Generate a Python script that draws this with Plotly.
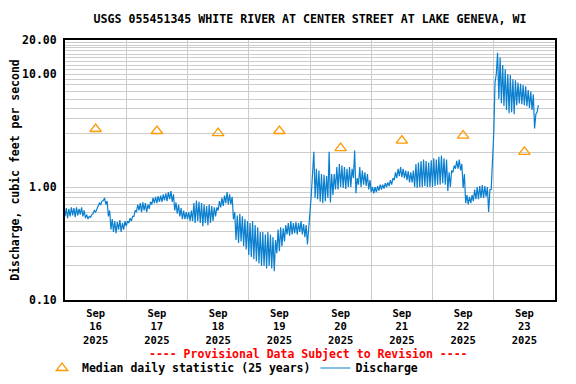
import pandas as pd
import plotly.graph_objects as go

# ---------------- data ----------------
# Discharge (ft3/s): for every hour the low and high of the noisy record, from Sep 16 00:00
start_time = "2025-09-16 00:00"

sep16_low  = [0.55, 0.53, 0.55, 0.56, 0.54, 0.56, 0.57, 0.55, 0.53, 0.52, 0.54, 0.58,
              0.60, 0.68, 0.70, 0.76, 0.70, 0.55, 0.42, 0.40, 0.39, 0.42, 0.40, 0.42]
sep16_high = [0.65, 0.64, 0.66, 0.65, 0.66, 0.64, 0.66, 0.62, 0.57, 0.55, 0.57, 0.62,
              0.64, 0.72, 0.75, 0.80, 0.75, 0.62, 0.52, 0.50, 0.49, 0.51, 0.48, 0.50]
sep17_low  = [0.45, 0.48, 0.50, 0.55, 0.60, 0.62, 0.60, 0.62, 0.60, 0.64, 0.70, 0.72,
              0.72, 0.74, 0.74, 0.76, 0.75, 0.78, 0.74, 0.62, 0.58, 0.55, 0.52, 0.52]
sep17_high = [0.50, 0.53, 0.55, 0.62, 0.70, 0.72, 0.73, 0.72, 0.70, 0.74, 0.80, 0.82,
              0.83, 0.84, 0.86, 0.88, 0.90, 0.92, 0.86, 0.73, 0.70, 0.65, 0.62, 0.60]
sep18_low  = [0.52, 0.50, 0.50, 0.48, 0.50, 0.48, 0.45, 0.48, 0.46, 0.48, 0.50, 0.55,
              0.62, 0.66, 0.68, 0.72, 0.70, 0.70, 0.52, 0.34, 0.32, 0.33, 0.30, 0.28]
sep18_high = [0.60, 0.62, 0.72, 0.76, 0.74, 0.72, 0.70, 0.68, 0.70, 0.68, 0.66, 0.66,
              0.75, 0.80, 0.84, 0.90, 0.86, 0.82, 0.60, 0.56, 0.58, 0.55, 0.52, 0.50]
sep19_low  = [0.25, 0.24, 0.23, 0.22, 0.21, 0.20, 0.20, 0.19, 0.20, 0.19, 0.18, 0.26,
              0.27, 0.30, 0.33, 0.38, 0.37, 0.38, 0.39, 0.38, 0.40, 0.38, 0.36, 0.31]
sep19_high = [0.48, 0.50, 0.46, 0.44, 0.40, 0.40, 0.38, 0.40, 0.38, 0.36, 0.34, 0.42,
              0.44, 0.43, 0.46, 0.48, 0.50, 0.48, 0.49, 0.48, 0.50, 0.47, 0.46, 0.40]
sep20_low  = [0.60, 1.20, 0.80, 0.78, 0.74, 0.72, 0.75, 0.80, 0.73, 0.85, 0.95, 0.95,
              1.00, 0.98, 0.96, 1.00, 1.00, 1.20, 0.88, 1.05, 1.00, 1.05, 1.02, 0.95]
sep20_high = [0.85, 2.05, 1.45, 1.40, 1.30, 1.28, 1.25, 2.05, 1.30, 1.30, 1.50, 1.60,
              1.55, 1.50, 1.45, 1.50, 1.45, 2.10, 1.20, 1.50, 1.40, 1.35, 1.30, 1.15]
sep21_low  = [0.90, 0.88, 0.90, 0.93, 0.95, 0.97, 1.00, 1.02, 1.05, 1.15, 1.20, 1.25,
              1.22, 1.20, 1.15, 1.10, 1.10, 1.00, 0.98, 1.00, 1.00, 1.02, 1.00, 1.00]
sep21_high = [1.00, 1.00, 1.02, 1.05, 1.05, 1.08, 1.10, 1.15, 1.20, 1.35, 1.45, 1.50,
              1.45, 1.40, 1.38, 1.35, 1.40, 1.60, 1.65, 1.70, 1.75, 1.70, 1.65, 1.72]
sep22_low  = [1.00, 1.02, 1.05, 1.05, 1.08, 1.05, 0.92, 1.00, 1.35, 1.45, 1.45, 1.40,
              0.98, 0.72, 0.70, 0.72, 0.75, 0.78, 0.78, 0.80, 0.80, 0.82, 0.60, 0.95]
sep22_high = [1.80, 1.75, 1.85, 1.90, 1.80, 1.75, 1.35, 1.40, 1.55, 1.70, 1.75, 1.60,
              1.30, 0.85, 0.82, 0.85, 0.95, 1.00, 1.02, 1.04, 1.02, 1.00, 0.95, 1.65]
sep23_low  = [3.0, 10.0, 6.0, 5.5, 5.2, 4.8, 4.5, 4.6, 4.4, 5.3, 5.5, 5.4,
              5.3, 5.2, 5.0, 4.8, 3.3, 4.6]
sep23_high = [8.4, 15.4, 14.0, 12.0, 11.0, 10.0, 9.8, 9.0, 8.8, 8.4, 8.2, 8.0,
              7.8, 7.2, 7.0, 6.6, 4.4, 5.3]

median_dates = ["2025-09-16 12:00", "2025-09-17 12:00", "2025-09-18 12:00", "2025-09-19 12:00",
                "2025-09-20 12:00", "2025-09-21 12:00", "2025-09-22 12:00", "2025-09-23 12:00"]
median_values = [3.26, 3.13, 3.00, 3.13, 2.21, 2.57, 2.85, 2.05]

y_tick_values = [0.1, 1, 10, 20]
y_tick_labels = ["0.10", "1.00", "10.00", "20.00"]

title_text = "USGS 055451345 WHITE RIVER AT CENTER STREET AT LAKE GENEVA, WI"
y_title = "Discharge, cubic feet per second"
provisional_note = "---- Provisional Data Subject to Revision ----"

# ---------------- build ----------------
lows = sep16_low + sep17_low + sep18_low + sep19_low + sep20_low + sep21_low + sep22_low + sep23_low
highs = (sep16_high + sep17_high + sep18_high + sep19_high + sep20_high + sep21_high
         + sep22_high + sep23_high)
discharge = []
for lo, hi in zip(lows, highs):      # low on the hour, high on the half hour
    discharge += [lo, hi]
times = pd.date_range(start_time, periods=len(discharge), freq="30min")

# gridlines at every integer step within each decade
grid_vals = [round(m * 10 ** e, 3) for e in (-1, 0) for m in range(1, 10)] + list(range(10, 21))
tick_text = [y_tick_labels[y_tick_values.index(v)] if v in y_tick_values else "" for v in grid_vals]

# the page body adds an 8 px margin, so the figure is 16 px smaller than the window
W, H = 560, 368
FONT = "DejaVu Sans Mono"
fig = go.Figure()
fig.add_trace(go.Scatter(
    x=times, y=discharge, mode="lines", name="Discharge",
    line=dict(color="#0a7fcf", width=1.2)))
fig.add_trace(go.Scatter(
    x=pd.to_datetime(median_dates), y=median_values, mode="markers",
    name="Median daily statistic (25 years)",
    marker=dict(symbol="triangle-up-open", size=10, color="#ff9900", line=dict(width=1.3))))

fig.update_layout(
    width=W, height=H,
    margin=dict(l=57, r=13, t=32, b=76, autoexpand=False),
    paper_bgcolor="white", plot_bgcolor="white",
    font=dict(family=FONT, size=11.5, color="black", weight="bold"),
    title=dict(text=title_text, x=0.5, xref="paper", xanchor="center",
               y=1 - 11 / H, yref="container", yanchor="middle",
               font=dict(family=FONT, size=11.6, weight="bold")),
    showlegend=True,
    legend=dict(orientation="h", x=-0.047, xanchor="left", y=-0.2615, yanchor="middle",
                traceorder="reversed", font=dict(size=11.5, weight="bold"),
                bgcolor="rgba(0,0,0,0)"),
    annotations=[dict(text=provisional_note, xref="paper", yref="paper",
                      x=0.496, y=-0.206, xanchor="center", yanchor="middle",
                      showarrow=False, font=dict(color="#ff0000", size=11.5, weight="bold"))],
)
fig.update_xaxes(
    type="date", range=["2025-09-16 00:00", "2025-09-24 00:00"],
    tick0="2025-09-16", dtick=86400000, ticklabelmode="period",
    tickformat="%b<br>%d<br>%Y", ticks="", automargin=False,
    tickfont=dict(size=10.5, weight="bold"), ticklabelstandoff=2,
    showgrid=True, gridcolor="#cccccc", gridwidth=1,
    showline=True, linecolor="black", linewidth=2, mirror=True, zeroline=False)
fig.update_yaxes(
    type="log", range=[-1, 1.30103], automargin=False,
    tickmode="array", tickvals=grid_vals, ticktext=tick_text, ticks="",
    ticklabelstandoff=4,
    showgrid=True, gridcolor="#cccccc", gridwidth=1,
    showline=True, linecolor="black", linewidth=2, mirror=True, zeroline=False,
    title=dict(text=y_title, standoff=4, font=dict(size=11.5, weight="bold")))

fig.write_html("out.html")
